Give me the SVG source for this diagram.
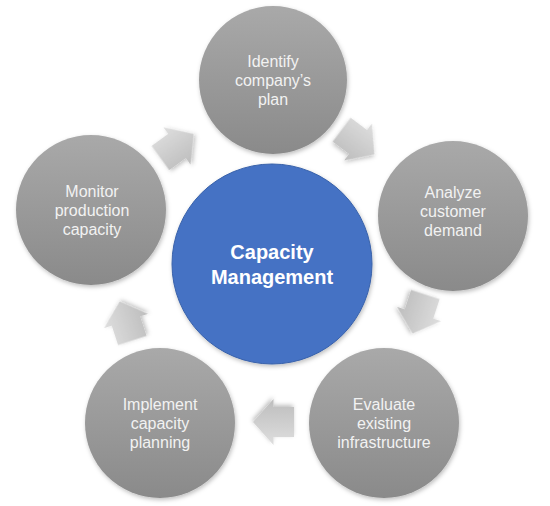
<svg xmlns="http://www.w3.org/2000/svg" width="550" height="506" viewBox="0 0 550 506">
<defs>
<linearGradient id="gc" x1="0" y1="0" x2="0" y2="1">
<stop offset="0" stop-color="#a9a9a9"/>
<stop offset="1" stop-color="#8a8a8a"/>
</linearGradient>
<linearGradient id="ga" x1="0" y1="0" x2="0" y2="1">
<stop offset="0" stop-color="#dedede"/>
<stop offset="1" stop-color="#bdbdbd"/>
</linearGradient>
<filter id="sh" x="-20%" y="-20%" width="140%" height="140%">
<feDropShadow dx="1" dy="2" stdDeviation="2" flood-color="#000" flood-opacity="0.25"/>
</filter>
<path id="arr" d="M-20.5,-15 L0,-15 L0,-23 L20.5,0 L0,23 L0,15 L-20.5,15 Z"/>
</defs>
<style>
.node{fill:url(#gc);filter:url(#sh)}
.hub{fill:#4472c4;stroke:#3a62aa;stroke-width:1;filter:url(#sh)}
.lbl{font-family:"Liberation Sans",Arial,sans-serif;font-size:16px;fill:#f2f2f2;text-anchor:middle}
.hubl{font-family:"Liberation Sans",Arial,sans-serif;font-size:20px;font-weight:bold;fill:#ffffff;text-anchor:middle}
.a{fill:url(#ga);filter:url(#sh)}
</style>
<rect width="550" height="506" fill="#ffffff"/>
<g id="connectors">
<use href="#arr" class="a" transform="translate(177,146) rotate(-36)"/>
<use href="#arr" class="a" transform="translate(358,142) rotate(37)"/>
<use href="#arr" class="a" transform="translate(419,314) rotate(108)"/>
<use href="#arr" class="a" transform="translate(273.5,422) rotate(180)"/>
<use href="#arr" class="a" transform="translate(126,321) rotate(-108)"/>
</g>
<g id="hub">
<circle class="hub" cx="272" cy="264" r="100"/>
<text class="hubl" x="272" y="259">Capacity</text>
<text class="hubl" x="272" y="284">Management</text>
</g>
<g id="n1">
<circle class="node" cx="273" cy="80" r="74"/>
<text class="lbl" x="273" y="67">Identify</text>
<text class="lbl" x="273" y="86">company’s</text>
<text class="lbl" x="273" y="105">plan</text>
</g>
<g id="n2">
<circle class="node" cx="453" cy="216" r="75"/>
<text class="lbl" x="453" y="198">Analyze</text>
<text class="lbl" x="453" y="217">customer</text>
<text class="lbl" x="453" y="236">demand</text>
</g>
<g id="n3">
<circle class="node" cx="384" cy="423" r="75"/>
<text class="lbl" x="384" y="410">Evaluate</text>
<text class="lbl" x="384" y="429">existing</text>
<text class="lbl" x="384" y="448">infrastructure</text>
</g>
<g id="n4">
<circle class="node" cx="160" cy="423" r="75"/>
<text class="lbl" x="160" y="410">Implement</text>
<text class="lbl" x="160" y="429">capacity</text>
<text class="lbl" x="160" y="448">planning</text>
</g>
<g id="n5">
<circle class="node" cx="91" cy="210" r="75"/>
<text class="lbl" x="92" y="197">Monitor</text>
<text class="lbl" x="92" y="216">production</text>
<text class="lbl" x="92" y="235">capacity</text>
</g>
</svg>
